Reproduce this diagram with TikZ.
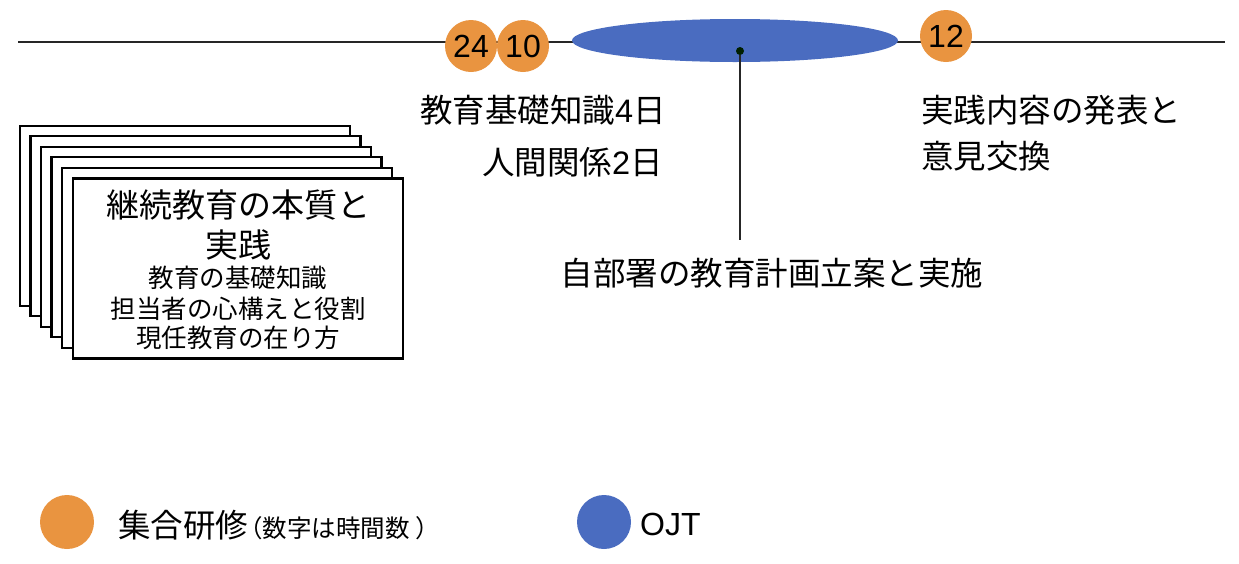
\documentclass[tikz,border=0pt]{standalone}
\usepackage{fontspec}
\setmainfont{Noto Sans CJK JP}
\newfontfamily\lat{Liberation Sans}
\definecolor{orng}{HTML}{E99440}
\definecolor{ojtblue}{HTML}{4A6CC0}
\newcommand{\fs}[1]{\fontsize{#1}{#1}\selectfont}
\tikzset{
  numdot/.style={circle, fill=orng, minimum size=52pt, inner sep=0pt, font=\lat\fs{32}},
  card/.style={draw=black, line width=2.4pt, fill=white, minimum width=330pt, minimum height=180pt, inner sep=0pt},
  lbl/.style={inner sep=0pt, font=\fs{32.5}},
  tline/.style={line width=1.5pt, draw=black!85}
}
\begin{document}
\begin{tikzpicture}[x=1pt,y=-1pt]
\useasboundingbox (0,0) rectangle (1239,563);
% timeline
\coordinate (tl) at (18,42);
\coordinate (tr) at (1225,42);
\draw[tline] (tl) -- (tr);
% OJT ellipse
\fill[ojtblue] (735,40.5) ellipse [x radius=163, y radius=21.5];
\node[circle, fill=black!80!green!60!black, minimum size=8pt, inner sep=0pt] (dot) at (740,51) {};
\coordinate (vend) at (740,240);
\draw[tline] (dot) -- (vend);
% orange circles
\node[numdot] (c24) at (471,46) {24};
\node[numdot] (c10) at (523,46) {10};
\node[numdot] (c12) at (946,36) {12};
% labels
\node[lbl, anchor=east] (t1) at (666,110) {教育基礎知識{\lat 4}日};
\node[lbl, anchor=east] (t2) at (663,162) {人間関係{\lat 2}日};
\node[lbl, anchor=west] (t3) at (921,110) {実践内容の発表と};
\node[lbl, anchor=west] (t4) at (921,156) {意見交換};
\node[lbl] (t5) at (772,273) {自部署の教育計画立案と実施};
% card stack
\node[card] (k1) at (184.7,215.7) {};
\node[card] (k2) at (195.3,226.2) {};
\node[card] (k3) at (205.9,236.7) {};
\node[card] (k4) at (216.5,247.2) {};
\node[card] (k5) at (227.1,257.8) {};
\node[card] (k6) at (237.7,268.3) {};
\node[inner sep=0pt, font=\fs{33}] (m1) at (238,205) {継続教育の本質と};
\node[inner sep=0pt, font=\fs{33}] (m2) at (238,245) {実践};
\node[inner sep=0pt, font=\fs{25.5}] (s1) at (238,278) {教育の基礎知識};
\node[inner sep=0pt, font=\fs{25.5}] (s2) at (238,309) {担当者の心構えと役割};
\node[inner sep=0pt, font=\fs{25.5}] (s3) at (238,338) {現任教育の在り方};
% legend
\node[circle, fill=orng, minimum size=54pt, inner sep=0pt] (lg1) at (67,522) {};
\node[lbl, anchor=west] (lt1) at (118,525) {集合研修{\fs{24.5}\kern-10pt（数字は時間数\kern6pt）}};
\node[circle, fill=ojtblue, minimum size=54pt, inner sep=0pt] (lg2) at (604,522) {};
\node[lbl, anchor=west, font=\lat\fs{32}] (lt2) at (640,524) {OJT};
\end{tikzpicture}
\end{document}
